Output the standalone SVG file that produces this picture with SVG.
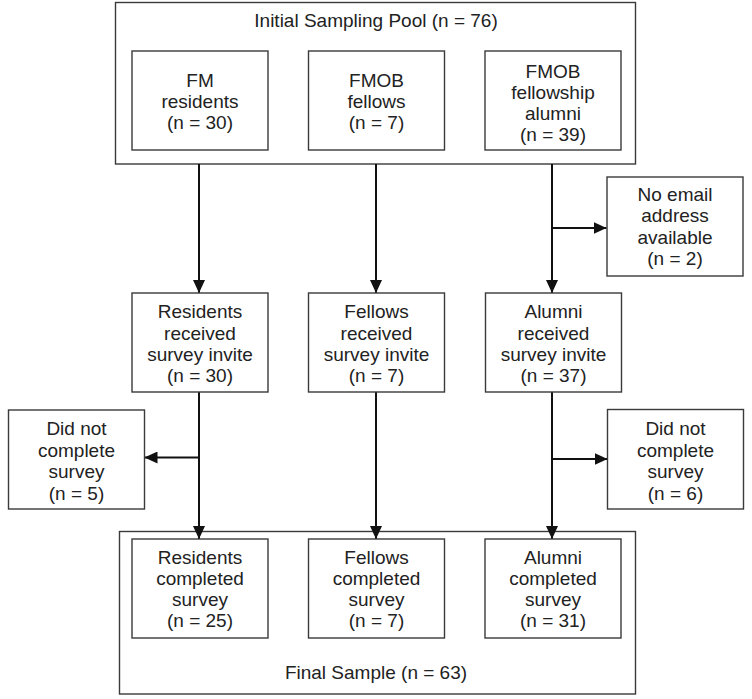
<svg xmlns="http://www.w3.org/2000/svg" width="752" height="699" viewBox="0 0 752 699">
<defs>
<style>
.box{fill:#fff;stroke:#3a3a3a;stroke-width:1.4}
.outer{fill:none;stroke:#3a3a3a;stroke-width:1.4}
text{font-family:"Liberation Sans",Arial,sans-serif;font-size:19px;fill:#222;text-anchor:middle}
.con{stroke:#111;stroke-width:2;fill:none}
</style>
<marker id="ah" markerUnits="userSpaceOnUse" markerWidth="13" markerHeight="12" refX="13" refY="6" orient="auto">
<path d="M0,0 L13,6 L0,12 z" fill="#111"/>
</marker>
</defs>
<rect width="752" height="699" fill="#fff"/>

<g id="pool">
<rect class="outer" x="115.5" y="2.5" width="520" height="161.5"/>
<text x="376" y="27">Initial Sampling Pool (n = 76)</text>
</g>
<g id="final">
<rect class="outer" x="119.5" y="531.5" width="516" height="162.5"/>
<text x="376" y="679">Final Sample (n = 63)</text>
</g>

<g id="connectors">
<line class="con" x1="199" y1="164" x2="199" y2="293" marker-end="url(#ah)"/>
<line class="con" x1="376" y1="164" x2="376" y2="293" marker-end="url(#ah)"/>
<line class="con" x1="552" y1="164" x2="552" y2="293" marker-end="url(#ah)"/>
<line class="con" x1="552" y1="228" x2="606.5" y2="228" marker-end="url(#ah)"/>
<line class="con" x1="199" y1="392" x2="199" y2="539" marker-end="url(#ah)"/>
<line class="con" x1="376" y1="392" x2="376" y2="539" marker-end="url(#ah)"/>
<line class="con" x1="552" y1="392" x2="552" y2="539" marker-end="url(#ah)"/>
<line class="con" x1="199" y1="457.5" x2="144.5" y2="457.5" marker-end="url(#ah)"/>
<line class="con" x1="552" y1="459" x2="607.5" y2="459" marker-end="url(#ah)"/>
</g>

<g id="fm-residents">
<rect class="box" x="132" y="51" width="136" height="99"/>
<text x="200" y="87">FM</text>
<text x="200" y="108">residents</text>
<text x="200" y="129">(n = 30)</text>
</g>
<g id="fmob-fellows">
<rect class="box" x="308.5" y="51" width="136" height="99"/>
<text x="376.5" y="87">FMOB</text>
<text x="376.5" y="108">fellows</text>
<text x="376.5" y="129">(n = 7)</text>
</g>
<g id="fmob-alumni">
<rect class="box" x="485" y="51" width="136" height="99"/>
<text x="553" y="77.5">FMOB</text>
<text x="553" y="98.5">fellowship</text>
<text x="553" y="119.5">alumni</text>
<text x="553" y="140.5">(n = 39)</text>
</g>
<g id="no-email">
<rect class="box" x="607" y="177" width="136" height="99"/>
<text x="675" y="200.5">No email</text>
<text x="675" y="222">address</text>
<text x="675" y="243.5">available</text>
<text x="675" y="265">(n = 2)</text>
</g>

<g id="residents-received">
<rect class="box" x="132" y="293" width="136" height="99"/>
<text x="200" y="318">Residents</text>
<text x="200" y="339.5">received</text>
<text x="200" y="361">survey invite</text>
<text x="200" y="382">(n = 30)</text>
</g>
<g id="fellows-received">
<rect class="box" x="308.5" y="293" width="136" height="99"/>
<text x="376.5" y="318">Fellows</text>
<text x="376.5" y="339.5">received</text>
<text x="376.5" y="361">survey invite</text>
<text x="376.5" y="382">(n = 7)</text>
</g>
<g id="alumni-received">
<rect class="box" x="485.5" y="293" width="136" height="99"/>
<text x="553.5" y="318">Alumni</text>
<text x="553.5" y="339.5">received</text>
<text x="553.5" y="361">survey invite</text>
<text x="553.5" y="382">(n = 37)</text>
</g>
<g id="did-not-left">
<rect class="box" x="8.5" y="410" width="136" height="99"/>
<text x="76.5" y="435">Did not</text>
<text x="76.5" y="456.5">complete</text>
<text x="76.5" y="478">survey</text>
<text x="76.5" y="499.5">(n = 5)</text>
</g>
<g id="did-not-right">
<rect class="box" x="607.5" y="409.5" width="136" height="99.5"/>
<text x="675.5" y="435">Did not</text>
<text x="675.5" y="456.5">complete</text>
<text x="675.5" y="478">survey</text>
<text x="675.5" y="499.5">(n = 6)</text>
</g>

<g id="residents-completed">
<rect class="box" x="132" y="539" width="136" height="99"/>
<text x="200" y="564">Residents</text>
<text x="200" y="585">completed</text>
<text x="200" y="606">survey</text>
<text x="200" y="627">(n = 25)</text>
</g>
<g id="fellows-completed">
<rect class="box" x="308.5" y="539" width="136" height="99"/>
<text x="376.5" y="564">Fellows</text>
<text x="376.5" y="585">completed</text>
<text x="376.5" y="606">survey</text>
<text x="376.5" y="627">(n = 7)</text>
</g>
<g id="alumni-completed">
<rect class="box" x="485" y="539" width="136" height="99"/>
<text x="553" y="564">Alumni</text>
<text x="553" y="585">completed</text>
<text x="553" y="606">survey</text>
<text x="553" y="627">(n = 31)</text>
</g>
</svg>
